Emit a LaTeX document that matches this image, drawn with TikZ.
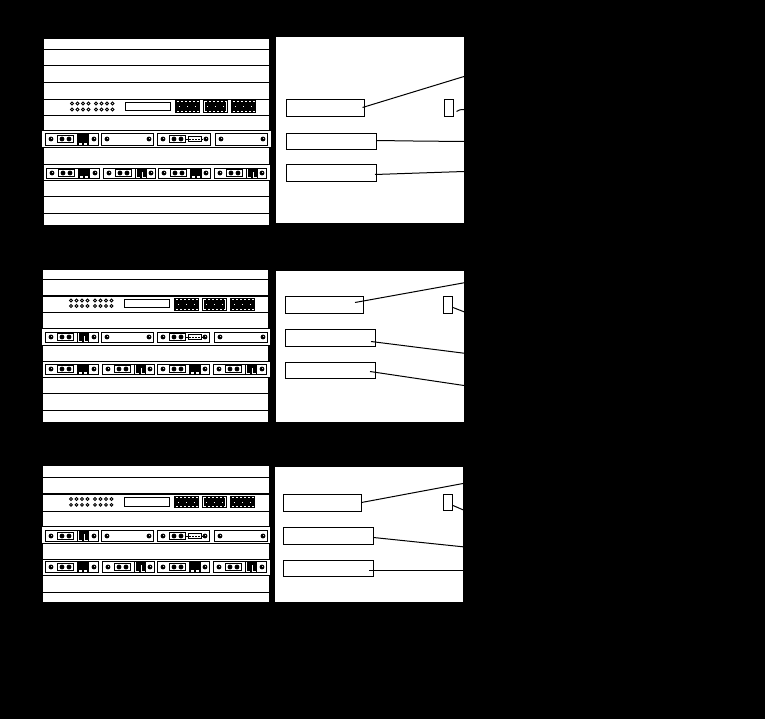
\documentclass[tikz,border=0pt]{standalone}
\tikzset{
  rule/.style={draw=black,line width=1pt},
  rulethick/.style={draw=black,line width=2pt},
  lead/.style={draw=black,line width=1pt},
  labelbox/.style={draw=black,fill=white,line width=1pt,inner sep=0pt,outer sep=0pt},
  panel/.style={fill=white,draw=none},
  led/.style={draw=black,fill=white,line width=.9pt},
  ink/.style={fill=black,draw=none},
  paper/.style={fill=white,draw=none},
}
% screw
\newcommand\Screw[2]{\fill[ink] (#1,#2) circle (2.4pt);\fill[paper] (#1+.5,#2-.5) circle (.5pt);}
% card frame with its two screws: x0 x1 y0 y1
\newcommand\CardBase[4]{%
  \draw[rule,fill=white] (#1+.5,#3+.5) rectangle (#2-.5,#4-.5);
  \pgfmathsetmacro\ymid{floor((#3+#4)/2)}%
  \Screw{#1+6}{\ymid}\Screw{#2-5}{\ymid}}
% network pair box
\newcommand\PairBox[3]{% x0 ymid fill-radius
  \draw[rule,fill=white] (#1+12.5,#2-3.5) rectangle (#1+28.5,#2+3.5);
  \fill[ink] (#1+17,#2) circle (#3pt);\fill[ink] (#1+24,#2) circle (#3pt);}
\newcommand\BlockA[3]{% x0 y0 y1
  \fill[ink] (#1+32,#2) rectangle (#1+44,#3);
  \fill[paper] (#1+34,#3-3) rectangle (#1+37,#3-1);
  \fill[paper] (#1+39,#3-3) rectangle (#1+42,#3-1);}
\newcommand\BlockB[3]{% x0 y0 y1
  \fill[ink] (#1+32,#2) rectangle (#1+44,#3);
  \fill[paper] (#1+33,#2+1) rectangle (#1+34,#3-1);
  \fill[paper] (#1+33,#3-2) rectangle (#1+37,#3-1);
  \fill[paper] (#1+39,#2+4) rectangle (#1+40,#3-1);
  \fill[paper] (#1+39,#3-2) rectangle (#1+43,#3-1);}
% card variants: x0 x1 y0 y1
\newcommand\CardA[4]{\CardBase{#1}{#2}{#3}{#4}\PairBox{#1}{\ymid}{2.4}\BlockA{#1}{#3}{#4}}
\newcommand\CardB[4]{\CardBase{#1}{#2}{#3}{#4}\PairBox{#1}{\ymid}{2.4}\BlockB{#1}{#3}{#4}}
\newcommand\CardC[4]{\CardBase{#1}{#2}{#3}{#4}\PairBox{#1}{\ymid}{2.4}%
  \draw[rule,fill=white] (#1+31.5,\ymid-2.5) rectangle (#1+44.5,\ymid+2.5);
  \draw[draw=black,line width=1pt,dash pattern=on 2pt off 1pt] (#1+32,\ymid+.5) -- (#1+44,\ymid+.5);
  \fill[ink] (#1+29,\ymid) rectangle (#1+31,\ymid+1);
  \fill[ink] (#1+44,\ymid) rectangle (#1+46,\ymid+1);}
% white band: xa xb yt yb
\newcommand\Band[4]{%
  \fill[paper] (#1,#3) rectangle (#2,#4);
  \draw[rule] (#1,#3-.5) -- (#2,#3-.5);
  \draw[rule] (#1,#4+.5) -- (#2,#4+.5);}
% terminal block: x0 x1 y0 y1
\newcommand\Terminal[5][0]{%
  \fill[ink] (#2,#4) rectangle (#3,#5);
  \foreach \dx in {2,6,...,22}{
    \fill[paper] (#2+\dx,#4+1) rectangle (#2+\dx+2,#4+2);
    \fill[paper] (#2+\dx,#5-2) rectangle (#2+\dx+2,#5-1);}
  \foreach \dx in {4,12,20}{
    \fill[paper] (#2+\dx,{#4+6}) rectangle (#2+\dx+1,{#4+7});}
  \ifnum#1=1
    \fill[paper] (#2+1,#4+1) rectangle (#2+2,#5-1);
    \fill[paper] (#3-2,#4+1) rectangle (#3-1,#5-1);
  \fi}
% device strip: led row 1, led row 2, display x0 y0 y1, terminal y0 y1, led x shift
\newcommand\Device[8]{%
  \foreach \lx in {72,77.5,83,88.5,96,101.5,107,112.5}{
    \draw[led] (\lx+#8,#1) circle (1.4pt);
    \draw[led] (\lx+#8,#2) circle (1.4pt);}
  \draw[rule,fill=white] (#3+.5,#4+.5) rectangle (#3+46-.5,#5-.5);
  \Terminal{#3+50}{#3+75}{#6}{#7}
  \Terminal[1]{#3+78}{#3+103}{#6}{#7}
  \Terminal{#3+106}{#3+131}{#6}{#7}}
\begin{document}
\begin{tikzpicture}[x=1pt,y=-1pt]
\fill[black] (0,0) rectangle (765,719);
\useasboundingbox (0,0) rectangle (765,719);

% ---------- rack 1
\fill[panel] (44,39) rectangle (269,225);
\foreach \yy in {49,65,82,99,115,196,213}{\draw[rule] (44,\yy.5) -- (269,\yy.5);}
\Device{103.5}{109.5}{125}{102}{111}{100}{113}{0}
\Band{42}{271}{131}{147}
\Band{44}{270}{165}{180}
\CardA{45}{99}{133}{146}
\CardBase{101}{154}{133}{146}
\CardC{157}{211}{133}{146}
\CardBase{215}{268}{133}{146}
\CardA{46}{100}{168}{179}
\CardB{103}{156}{168}{179}
\CardA{158}{211}{168}{179}
\CardB{214}{267}{168}{179}

\fill[panel] (276,37) rectangle (464,223);
\node[labelbox,minimum width=78pt,minimum height=17pt] (ra) at (325.5,108) {};
\node[labelbox,minimum width=90pt,minimum height=16pt] (rb) at (331.5,141.5) {};
\node[labelbox,minimum width=90pt,minimum height=17pt] (rc) at (331.5,173) {};
\node[labelbox,minimum width=9pt,minimum height=17pt] (rd) at (449,108) {};
\coordinate (ra1) at (362.5,107.5); \coordinate (ra2) at (464,76.5);
\coordinate (rb1) at (376,140.5); \coordinate (rb2) at (413,141); \coordinate (rb3) at (464,141.5);
\coordinate (rc1) at (375,174.5); \coordinate (rc2) at (464,171.5);
\coordinate (rd1) at (456.5,111.5); \coordinate (rd2) at (460,109.8); \coordinate (rd3) at (464,109.5);
\draw[lead] (ra1) -- (ra2);
\draw[lead] (rb1) -- (rb2) -- (rb3);
\draw[lead] (rc1) -- (rc2);
\draw[lead] (rd1) -- (rd2) -- (rd3);

% ---------- rack 2
\fill[panel] (43,270) rectangle (268,422);
\foreach \yy in {279,312,393,410}{\draw[rule] (43,\yy.5) -- (268,\yy.5);}
\draw[rulethick] (43,296) -- (268,296);
\Device{300.5}{306}{124}{299}{308}{298}{311}{-1}
\Band{42}{270}{329}{345}
\Band{43}{270}{362}{377}
\CardB{45}{99}{332}{343}
\CardBase{101}{154}{332}{343}
\CardC{157}{210}{332}{343}
\CardBase{214}{268}{332}{343}
\CardA{45}{99}{364}{375}
\CardB{102}{155}{364}{375}
\CardA{157}{210}{364}{375}
\CardB{213}{267}{364}{375}

\fill[panel] (276,271) rectangle (464,422);
\node[labelbox,minimum width=78pt,minimum height=17pt] (sa) at (324.5,305) {};
\node[labelbox,minimum width=90pt,minimum height=17pt] (sb) at (330.5,338) {};
\node[labelbox,minimum width=90pt,minimum height=16pt] (sc) at (330.5,370.5) {};
\node[labelbox,minimum width=9pt,minimum height=17pt] (sd) at (448,305) {};
\coordinate (sa1) at (355,302.5); \coordinate (sa2) at (464,282.8);
\coordinate (sb1) at (371,341.5); \coordinate (sb2) at (464,353.2);
\coordinate (sc1) at (370,371.5); \coordinate (sc2) at (464,385.5);
\coordinate (sd1) at (453,307.5); \coordinate (sd2) at (464,311.8);
\draw[lead] (sa1) -- (sa2);
\draw[lead] (sb1) -- (sb2);
\draw[lead] (sc1) -- (sc2);
\draw[lead] (sd1) -- (sd2);

% ---------- rack 3
\fill[panel] (43,466) rectangle (269,602);
\foreach \yy in {477,511,592}{\draw[rule] (43,\yy.5) -- (269,\yy.5);}
\draw[rulethick] (43,494) -- (269,494);
\Device{499}{504.8}{124}{497}{507}{496}{508}{-1}
\Band{42}{270}{527}{543}
\Band{43}{270}{560}{575}
\CardB{45}{99}{530}{542}
\CardBase{101}{154}{530}{542}
\CardC{157}{210}{530}{542}
\CardBase{214}{268}{530}{542}
\CardA{45}{99}{561}{573}
\CardB{102}{155}{561}{573}
\CardA{157}{210}{561}{573}
\CardB{213}{267}{561}{573}

\fill[panel] (275,467) rectangle (463,602);
\node[labelbox,minimum width=78pt,minimum height=17pt] (ta) at (322.5,503) {};
\node[labelbox,minimum width=90pt,minimum height=17pt] (tb) at (328.5,536) {};
\node[labelbox,minimum width=90pt,minimum height=16pt] (tc) at (328.5,568.5) {};
\node[labelbox,minimum width=9pt,minimum height=16pt] (td) at (448,502.5) {};
\coordinate (ta1) at (361.5,502.5); \coordinate (ta2) at (463,483.5);
\coordinate (tb1) at (373.5,537.5); \coordinate (tb2) at (463,546.8);
\coordinate (tc1) at (369,570.5); \coordinate (tc2) at (463,570.5);
\coordinate (td1) at (453,505.5); \coordinate (td2) at (463,509.8);
\draw[lead] (ta1) -- (ta2);
\draw[lead] (tb1) -- (tb2);
\draw[lead] (tc1) -- (tc2);
\draw[lead] (td1) -- (td2);
\end{tikzpicture}
\end{document}
